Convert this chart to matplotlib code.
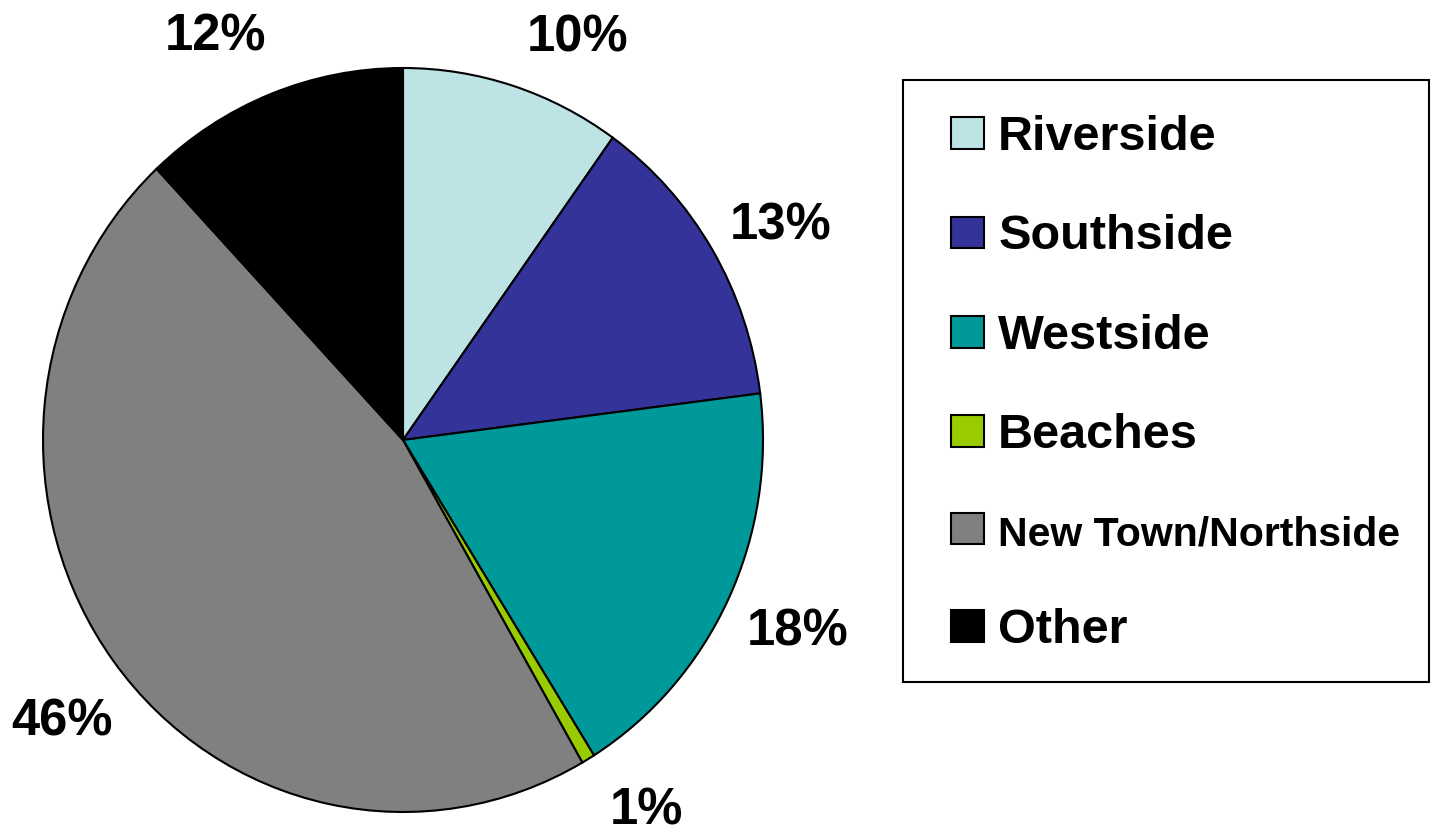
import matplotlib
matplotlib.use("Agg")
import matplotlib.pyplot as plt
from matplotlib.patches import Rectangle
from matplotlib.transforms import ScaledTranslation

# share of each area
areas = ["Riverside", "Southside", "Westside", "Beaches", "New Town/Northside", "Other"]
shares = [9.9, 13.1, 18.1, 0.6, 46.3, 12.0]
colors = ["#BDE3E5", "#333399", "#009999", "#99CC00", "#808080", "#000000"]

# nudges for the percent labels (pixels, right / down), like the original layout
label_nudge = [(41, 27), (3, 16), (1, -1), (19, -15), (9, 14), (-27, 16)]

plt.rcParams['font.family'] = ['Liberation Sans', 'DejaVu Sans']

W, H = 1431, 834
stretch = 372 / 360  # the original pie is a bit taller than wide
fig = plt.figure(figsize=(W / 100, H / 100), dpi=100)
ax = fig.add_axes([0, 0, 1, 1])

wedges, texts = ax.pie(
    shares, colors=colors, startangle=90, counterclock=False,
    center=(403, 394 / stretch), radius=360,
    labels=[f"{round(s):.0f}%" for s in shares], labeldistance=1.21,
    wedgeprops=dict(edgecolor='black', linewidth=1.5),
    textprops=dict(fontsize=36.5, fontweight='bold', color='black'),
    frame=True,
)
ax.set_aspect('auto')
ax.set_xlim(0, W)
ax.set_ylim(0, H / stretch)
ax.axis('off')

for t, (ox, oy) in zip(texts, label_nudge):
    t.set_horizontalalignment('center')
    t.set_verticalalignment('center')
    t.set_transform(t.get_transform() + ScaledTranslation(ox / 100, -oy / 100, fig.dpi_scale_trans))

# legend entries without frame, the box is drawn separately so it can run to the right edge
leg = fig.legend(
    wedges, areas, loc='upper left', bbox_to_anchor=(951 / W, 1 - 115 / H),
    prop=dict(size=35, weight='bold'), frameon=False, borderpad=0,
    labelspacing=1.12, handlelength=0.67, handleheight=0.62,
    handletextpad=0.3, borderaxespad=0,
)
leg.get_texts()[4].set_fontsize(29.5)

fig.patches.append(Rectangle((903 / W, 1 - 682 / H), (1429 - 903) / W, (682 - 80) / H,
                             transform=fig.transFigure, fill=False,
                             edgecolor='black', linewidth=1.5))

fig.savefig("out.png", dpi=100)
